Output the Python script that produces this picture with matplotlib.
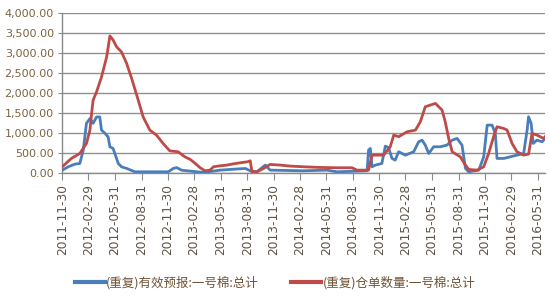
import matplotlib
matplotlib.use("Agg")
import matplotlib.pyplot as plt
import matplotlib.dates as mdates
import numpy as np
import pandas as pd

# ---- data ----
blue_dates = ["2011-11-30", "2011-12-21", "2012-01-13", "2012-01-30", "2012-02-11", "2012-02-22",
              "2012-03-05", "2012-03-16", "2012-03-28", "2012-04-08", "2012-04-14", "2012-04-26",
              "2012-05-07", "2012-05-13", "2012-05-24", "2012-05-30", "2012-06-11", "2012-06-22",
              "2012-07-10", "2012-08-07", "2012-12-01", "2012-12-18", "2012-12-30", "2013-01-16",
              "2013-04-02", "2013-05-29", "2013-08-24", "2013-09-10", "2013-10-03", "2013-11-01",
              "2013-11-18", "2014-03-13", "2014-06-02", "2014-07-07", "2014-10-19", "2014-10-24",
              "2014-10-30", "2014-11-05", "2014-11-16", "2014-12-09", "2014-12-21", "2015-01-01",
              "2015-01-13", "2015-01-24", "2015-02-05", "2015-02-28", "2015-03-29", "2015-04-15",
              "2015-04-27", "2015-05-08", "2015-05-20", "2015-06-06", "2015-06-29", "2015-07-22",
              "2015-08-09", "2015-08-26", "2015-09-12", "2015-09-24", "2015-10-05", "2015-11-09",
              "2015-11-26", "2015-12-08", "2015-12-25", "2016-01-05", "2016-01-11", "2016-02-03",
              "2016-02-26", "2016-03-20", "2016-04-12", "2016-04-24", "2016-04-29", "2016-05-08",
              "2016-05-15", "2016-05-28", "2016-06-15", "2016-06-25"]
blue_values = [65, 150, 217, 234, 570, 1240,
               1360, 1240, 1400, 1400, 1070, 990,
               900, 650, 610, 485, 234, 150,
               110, 25, 25, 110, 130, 65,
               8, 67, 109, 50, 25, 193,
               67, 50, 67, 25, 50, 568,
               610, 150, 192, 234, 669, 630,
               360, 318, 527, 443, 527, 777,
               819, 694, 485, 652, 652, 694,
               819, 861, 694, 109, 25, 67,
               401, 1195, 1195, 986, 360, 360,
               401, 443, 485, 1070, 1404, 1237,
               736, 819, 777, 860]

red_dates = ["2011-11-30", "2012-01-01", "2012-01-30", "2012-02-22", "2012-03-05", "2012-03-11",
             "2012-03-16", "2012-03-28", "2012-04-14", "2012-05-02", "2012-05-13", "2012-05-24",
             "2012-06-05", "2012-06-22", "2012-07-10", "2012-07-27", "2012-08-19", "2012-09-05",
             "2012-09-28", "2012-10-21", "2012-11-13", "2012-12-06", "2013-01-04", "2013-01-27",
             "2013-02-15", "2013-03-04", "2013-03-21", "2013-04-07", "2013-04-24", "2013-05-06",
             "2013-05-29", "2013-06-21", "2013-07-09", "2013-08-06", "2013-09-01", "2013-09-10",
             "2013-09-16", "2013-10-03", "2013-10-26", "2013-11-18", "2013-12-23", "2014-01-26",
             "2014-03-13", "2014-05-10", "2014-07-07", "2014-08-28", "2014-09-14", "2014-10-24",
             "2014-11-05", "2014-12-15", "2015-01-07", "2015-01-19", "2015-02-05", "2015-03-06",
             "2015-04-04", "2015-04-21", "2015-05-08", "2015-06-12", "2015-07-05", "2015-07-16",
             "2015-07-28", "2015-08-09", "2015-09-06", "2015-09-24", "2015-10-05", "2015-11-03",
             "2015-11-26", "2015-12-13", "2015-12-30", "2016-01-11", "2016-02-03", "2016-02-15",
             "2016-03-03", "2016-03-20", "2016-04-12", "2016-04-29", "2016-05-11", "2016-05-28",
             "2016-06-20", "2016-06-25"]
red_values = [150, 360, 485, 735, 1070, 1500,
              1820, 2030, 2400, 2910, 3430, 3330,
              3160, 3030, 2740, 2370, 1820, 1400,
              1070, 945, 735, 550, 527, 400,
              335, 234, 126, 50, 67, 151,
              176, 192, 218, 251, 276, 301,
              25, 25, 109, 210, 193, 168,
              151, 134, 126, 126, 67, 67,
              443, 443, 652, 945, 904, 1028,
              1070, 1279, 1655, 1739, 1572, 1279,
              861, 527, 401, 192, 84, 67,
              150, 485, 903, 1154, 1112, 1070,
              736, 527, 443, 468, 986, 945,
              861, 903]

tick_labels = ["2011-11-30", "2012-02-29", "2012-05-31", "2012-08-31", "2012-11-30",
               "2013-02-28", "2013-05-31", "2013-08-31", "2013-11-30", "2014-02-28",
               "2014-05-31", "2014-08-31", "2014-11-30", "2015-02-28", "2015-05-31",
               "2015-08-31", "2015-11-30", "2016-02-29", "2016-05-31"]
y_ticks = [0, 500, 1000, 1500, 2000, 2500, 3000, 3500, 4000]

series_names = ["(重复)有效预报:一号棉:总计", "(重复)仓单数量:一号棉:总计"]

# ---- plot ----
fig = plt.figure(figsize=(5.5, 3.0), dpi=100)
ax = fig.add_axes([0.113, 0.424, 0.878, 0.532])

blue_c = "#4a7ebb"
red_c = "#be4b48"
ax.plot(pd.to_datetime(blue_dates), blue_values, color=blue_c, lw=2.0,
        label=series_names[0], zorder=3, solid_joinstyle="round")
ax.plot(pd.to_datetime(red_dates), red_values, color=red_c, lw=2.0,
        label=series_names[1], zorder=4, solid_joinstyle="round")

ax.set_ylim(0, 4000)
ax.set_yticks(y_ticks)
ax.set_yticklabels([f"{v:,.2f}" for v in y_ticks], fontsize=8, color="#7d6240",
                   family="DejaVu Sans")
ax.set_xlim(pd.Timestamp("2011-11-30"), pd.Timestamp("2016-06-25"))
ax.set_xticks(pd.to_datetime(tick_labels))
ax.set_xticklabels(tick_labels, rotation=90, fontsize=8.8, color="#5f5446",
                   family="DejaVu Sans")

ax.grid(axis="y", color="#8f8f8f", lw=1.0)
ax.set_axisbelow(True)
for s in ["top", "right"]:
    ax.spines[s].set_visible(False)
for s in ["left", "bottom"]:
    ax.spines[s].set_color("#8a8a8a")
    ax.spines[s].set_linewidth(1.0)
ax.tick_params(axis="y", length=3, color="#8a8a8a", pad=3)
ax.tick_params(axis="x", length=5, color="#8a8a8a", pad=3)

leg = fig.legend(loc="center", bbox_to_anchor=(0.5, 0.057), ncol=2, frameon=False,
                 prop={"family": ["Noto Sans CJK SC", "DejaVu Sans"], "size": 9},
                 handlelength=2.4, columnspacing=2.6, handletextpad=0.1)
for t in leg.get_texts():
    t.set_color("#6e5335")
for l in leg.get_lines():
    l.set_linewidth(3)

fig.savefig("out.png", dpi=100)
